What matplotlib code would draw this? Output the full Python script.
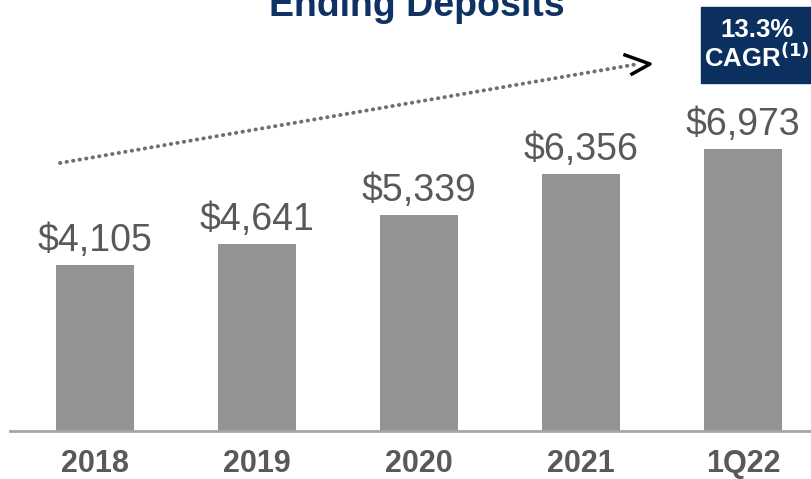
import matplotlib.pyplot as plt
from matplotlib.patches import Rectangle

periods = ["2018", "2019", "2020", "2021", "1Q22"]
deposits = [4105, 4641, 5339, 6356, 6973]
value_labels = ["$4,105", "$4,641", "$5,339", "$6,356", "$6,973"]
cagr_text = "13.3%"

plt.rcParams['font.family'] = ['Liberation Sans', 'DejaVu Sans']

fig = plt.figure(figsize=(8.11, 4.79), dpi=100)
W, H = 811, 479

# axes placed so the baseline sits near the bottom, spans almost full width
ax = fig.add_axes([10 / W, 48 / H, 801 / W, 431 / H])
x = list(range(len(periods)))
ax.bar(x, deposits, width=0.48, color='#939393')
ax.set_xlim((10 - 95) / 162, (811 - 95) / 162)
ax.set_ylim(0, 10670)

for xi, v, lab in zip(x, deposits, value_labels):
    ax.annotate(lab, (xi, v), xytext=(0, 10), textcoords='offset points',
                ha='center', va='baseline', fontsize=27, color='#595959')

ax.set_xticks(x)
ax.set_xticklabels(periods, fontsize=22, fontweight='bold', color='#595959')
ax.tick_params(axis='x', length=0, pad=13)
ax.set_yticks([])
for s in ['top', 'right', 'left']:
    ax.spines[s].set_visible(False)
ax.spines['bottom'].set_color('#a6a6a6')
ax.spines['bottom'].set_linewidth(2)

# title, clipped at top like the original
fig.text(417 / W, 1 - 16 / H, "Ending Deposits", ha='center', va='baseline',
         fontsize=27, fontweight='bold', color='#0f3264')

# dotted growth arrow
dots = plt.Line2D([60 / W, 638 / W], [1 - 163 / H, 1 - 64 / H],
                  linestyle=(0, (0.1, 1.6)), linewidth=2.8, color='#6f6f6f',
                  dash_capstyle='round')
fig.add_artist(dots)
fig.add_artist(plt.Line2D([625 / W, 650 / W, 632 / W],
                          [1 - 55 / H, 1 - 64 / H, 1 - 74 / H],
                          linewidth=2.5, color='black'))

# CAGR box
fig.add_artist(Rectangle((701 / W, 1 - 83 / H), 110 / W, 76 / H,
                         transform=fig.transFigure, color='#0b2f5e'))
fig.text(757 / W, 1 - 37 / H, cagr_text, ha='center', va='baseline',
         fontsize=18.5, fontweight='bold', color='white')
fig.text(757 / W, 1 - 67 / H, r"CAGR$^{\mathbf{(1)}}$", ha='center', va='baseline',
         fontsize=18.5, fontweight='bold', color='white')

plt.savefig('out.png', dpi=100)
